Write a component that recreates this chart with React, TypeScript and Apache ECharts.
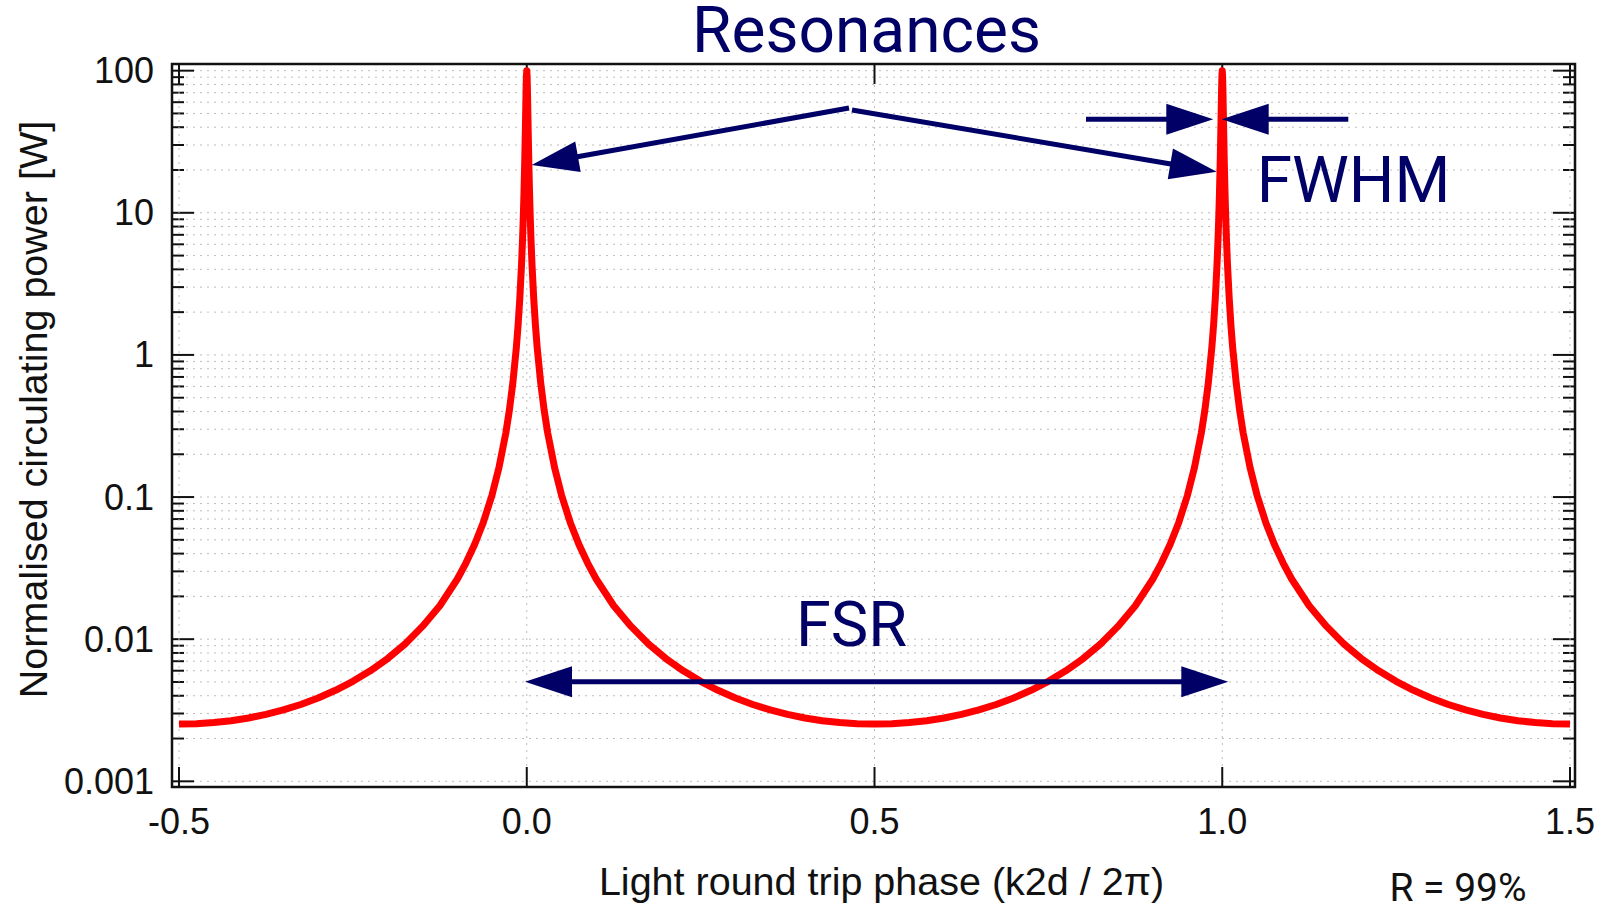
import React, { useEffect, useRef } from "react";
import * as echarts from "echarts";

// ---------------- data ----------------
const xTickValues = [-0.5, 0.0, 0.5, 1.0, 1.5];
const yMajorValues = [0.001, 0.01, 0.1, 1, 10, 100];
const yMinorValues = [
  0.002, 0.003, 0.004, 0.005, 0.006, 0.007, 0.008, 0.009,
  0.02, 0.03, 0.04, 0.05, 0.06, 0.07, 0.08, 0.09,
  0.2, 0.3, 0.4, 0.5, 0.6, 0.7, 0.8, 0.9,
  2, 3, 4, 5, 6, 7, 8, 9,
  20, 30, 40, 50, 60, 70, 80, 90,
];

// light round trip phase (k2d / 2π)
const phase = [
  -0.5, -0.475, -0.45, -0.425, -0.4, -0.375, -0.35, -0.325, -0.3, -0.275, -0.25, -0.225, -0.2, -0.175,
  -0.15, -0.125, -0.1, -0.0875, -0.075, -0.0625, -0.05, -0.04, -0.03, -0.025, -0.02, -0.015, -0.0125,
  -0.01, -0.0075, -0.006, -0.005, -0.004, -0.003, -0.002, -0.0016, -0.001, -0.0005, 0.0,
  0.0005, 0.001, 0.0016, 0.002, 0.003, 0.004, 0.005, 0.006, 0.0075, 0.01, 0.0125, 0.015, 0.02, 0.025,
  0.03, 0.04, 0.05, 0.0625, 0.075, 0.0875, 0.1, 0.125, 0.15, 0.175, 0.2, 0.225, 0.25, 0.275, 0.3,
  0.325, 0.35, 0.375, 0.4, 0.425, 0.45, 0.475, 0.5,
  0.525, 0.55, 0.575, 0.6, 0.625, 0.65, 0.675, 0.7, 0.725, 0.75, 0.775, 0.8, 0.825, 0.85, 0.875, 0.9,
  0.9125, 0.925, 0.9375, 0.95, 0.96, 0.97, 0.975, 0.98, 0.985, 0.9875, 0.99, 0.9925, 0.994, 0.995,
  0.996, 0.997, 0.998, 0.9984, 0.999, 0.9995, 1.0,
  1.0005, 1.001, 1.0016, 1.002, 1.003, 1.004, 1.005, 1.006, 1.0075, 1.01, 1.0125, 1.015, 1.02, 1.025,
  1.03, 1.04, 1.05, 1.0625, 1.075, 1.0875, 1.1, 1.125, 1.15, 1.175, 1.2, 1.225, 1.25, 1.275, 1.3,
  1.325, 1.35, 1.375, 1.4, 1.425, 1.45, 1.475, 1.5,
];

// normalised circulating power [W]
const power = [
  0.00253, 0.00254, 0.00259, 0.00267, 0.00279, 0.00296, 0.00318, 0.00347, 0.00386, 0.00437, 0.00505,
  0.00599, 0.00731, 0.00925, 0.0123, 0.0172, 0.0264, 0.0343, 0.0463, 0.0663, 0.103, 0.161, 0.284,
  0.409, 0.637, 1.125, 1.61, 2.5, 4.35, 6.64, 9.28, 13.8, 22.1, 39.0, 50.0, 71.9, 91.1, 100,
  91.1, 71.9, 50.0, 39.0, 22.1, 13.8, 9.28, 6.64, 4.35, 2.5, 1.61, 1.125, 0.637, 0.409, 0.284, 0.161,
  0.103, 0.0663, 0.0463, 0.0343, 0.0264, 0.0172, 0.0123, 0.00925, 0.00731, 0.00599, 0.00505, 0.00437,
  0.00386, 0.00347, 0.00318, 0.00296, 0.00279, 0.00267, 0.00259, 0.00254, 0.00253,
  0.00254, 0.00259, 0.00267, 0.00279, 0.00296, 0.00318, 0.00347, 0.00386, 0.00437, 0.00505, 0.00599,
  0.00731, 0.00925, 0.0123, 0.0172, 0.0264, 0.0343, 0.0463, 0.0663, 0.103, 0.161, 0.284, 0.409, 0.637,
  1.125, 1.61, 2.5, 4.35, 6.64, 9.28, 13.8, 22.1, 39.0, 50.0, 71.9, 91.1, 100,
  91.1, 71.9, 50.0, 39.0, 22.1, 13.8, 9.28, 6.64, 4.35, 2.5, 1.61, 1.125, 0.637, 0.409, 0.284, 0.161,
  0.103, 0.0663, 0.0463, 0.0343, 0.0264, 0.0172, 0.0123, 0.00925, 0.00731, 0.00599, 0.00505, 0.00437,
  0.00386, 0.00347, 0.00318, 0.00296, 0.00279, 0.00267, 0.00259, 0.00254, 0.00253,
];

const titleText = "Resonances";
const xAxisTitle = "Light round trip phase (k2d / 2π)";
const yAxisTitle = "Normalised circulating power [W]";
const noteText = "R = 99%";

// ---------------- layout / style ----------------
const W = 1604;
const H = 907;
const GRID = { left: 172, top: 64, right: 1575, bottom: 787 };
const NAVY = "#000066";
const INK = "#111111";
const GRIDCOLOR = "#bdbdbd";
const LABEL_FONT = "'Liberation Sans', Arial, sans-serif";
const NOTE_FONT = "Roboto, 'Noto Sans', sans-serif";

type Pt = [number, number];

function arrow(tail: Pt, tip: Pt, headLen = 47, half = 15.5) {
  const dx = tip[0] - tail[0];
  const dy = tip[1] - tail[1];
  const L = Math.hypot(dx, dy);
  const ux = dx / L;
  const uy = dy / L;
  const bx = tip[0] - ux * headLen;
  const by = tip[1] - uy * headLen;
  return [
    {
      type: "line",
      z: 20,
      shape: { x1: tail[0], y1: tail[1], x2: bx + ux * 2, y2: by + uy * 2 },
      style: { stroke: NAVY, lineWidth: 5 },
    },
    {
      type: "polygon",
      z: 20,
      shape: {
        points: [
          [tip[0], tip[1]],
          [bx - uy * half, by + ux * half],
          [bx + uy * half, by - ux * half],
        ],
      },
      style: { fill: NAVY },
    },
  ];
}

function fmtDecade(v: number) {
  const e = Math.log10(v);
  const r = Math.round(e);
  if (Math.abs(e - r) > 1e-6) return "";
  if (r < 0) return Math.pow(10, r).toFixed(-r);
  return String(Math.round(Math.pow(10, r)));
}

function fmtHalf(v: number) {
  const r = Math.round(v * 2);
  if (Math.abs(v * 2 - r) > 1e-6) return "";
  return (r / 2).toFixed(1);
}

export default function App() {
  const ref = useRef<HTMLDivElement>(null);

  useEffect(() => {
    if (!ref.current) return;
    const chart = echarts.init(ref.current, null, { renderer: "svg" });

    const yTickData = [
      ...yMajorValues.map((v) => [0, v, 1]),
      ...yMinorValues.map((v) => [0, v, 0]),
    ];
    const xTickData = xTickValues.map((v) => [v, 1]);

    const renderYTick = (params: any, api: any) => {
      const cs = params.coordSys;
      const v = api.value(1);
      const major = api.value(2) === 1;
      const py = api.coord([0, v])[1];
      const len = major ? 22 : 12;
      const left = cs.x;
      const right = cs.x + cs.width;
      return {
        type: "group",
        children: [
          {
            type: "line",
            shape: { x1: left, y1: py, x2: right, y2: py },
            style: { stroke: GRIDCOLOR, lineWidth: 1, lineDash: [2, 5] },
          },
          {
            type: "line",
            shape: { x1: left, y1: py, x2: left + len, y2: py },
            style: { stroke: INK, lineWidth: 2 },
          },
          {
            type: "line",
            shape: { x1: right - len, y1: py, x2: right, y2: py },
            style: { stroke: INK, lineWidth: 2 },
          },
        ],
      };
    };

    const renderXTick = (params: any, api: any) => {
      const cs = params.coordSys;
      const v = api.value(0);
      const px = api.coord([v, 1])[0];
      const top = cs.y;
      const bottom = cs.y + cs.height;
      return {
        type: "group",
        children: [
          {
            type: "line",
            shape: { x1: px, y1: top, x2: px, y2: bottom },
            style: { stroke: GRIDCOLOR, lineWidth: 1, lineDash: [2, 5] },
          },
          {
            type: "line",
            shape: { x1: px, y1: bottom, x2: px, y2: bottom - 20 },
            style: { stroke: INK, lineWidth: 2 },
          },
          {
            type: "line",
            shape: { x1: px, y1: top, x2: px, y2: top + 20 },
            style: { stroke: INK, lineWidth: 2 },
          },
        ],
      };
    };

    const annotationElements: any[] = [
      // Resonances arrows
      ...arrow([849, 108], [531.7, 165]),
      ...arrow([852, 110], [1216.7, 171.7]),
      // FWHM arrows
      ...arrow([1086, 119.3], [1213.3, 119.3]),
      ...arrow([1348.3, 119.3], [1221.7, 119.3]),
      // FSR double arrow
      ...arrow([876, 681.7], [525, 681.7]),
      ...arrow([876, 681.7], [1228.3, 681.7]),
      {
        type: "rect",
        z: 15,
        shape: {
          x: GRID.left,
          y: GRID.top,
          width: GRID.right - GRID.left,
          height: GRID.bottom - GRID.top,
        },
        style: { fill: "none", stroke: INK, lineWidth: 2.5 },
      },
      {
        type: "text",
        z: 25,
        x: 866.5,
        y: 30,
        style: {
          text: titleText,
          fill: NAVY,
          font: `64px ${NOTE_FONT}`,
          lineHeight: 50,
          align: "center",
          verticalAlign: "middle",
        },
      },
      {
        type: "text",
        z: 25,
        x: 1353.5,
        y: 180,
        style: {
          text: "FWHM",
          fill: NAVY,
          font: `64px ${NOTE_FONT}`,
          align: "center",
          verticalAlign: "middle",
        },
      },
      {
        type: "text",
        z: 25,
        x: 851.5,
        y: 624,
        style: {
          text: "FSR",
          fill: NAVY,
          font: `63px ${NOTE_FONT}`,
          align: "center",
          verticalAlign: "middle",
        },
      },
      {
        type: "text",
        z: 25,
        x: 1458,
        y: 888,
        style: {
          text: noteText,
          fill: INK,
          font: `39px ${NOTE_FONT}`,
          lineHeight: 30,
          align: "center",
          verticalAlign: "middle",
        },
      },
    ];

    chart.setOption({
      animation: false,
      backgroundColor: "#ffffff",
      grid: {
        left: GRID.left,
        top: GRID.top,
        right: W - GRID.right,
        bottom: H - GRID.bottom,
        containLabel: false,
      },
      xAxis: {
        type: "value",
        min: -0.5101,
        max: 1.5072,
        splitNumber: 4,
        axisLine: { show: false },
        axisTick: { show: false },
        splitLine: { show: false },
        axisLabel: {
          formatter: fmtHalf,
          fontSize: 36,
          fontFamily: LABEL_FONT,
          color: INK,
          margin: 16,
          showMinLabel: true,
          showMaxLabel: true,
        },
        name: xAxisTitle,
        nameLocation: "middle",
        nameGap: 74,
        nameTextStyle: {
          fontSize: 39.5,
          fontFamily: LABEL_FONT,
          color: INK,
          padding: [0, 0, 0, 16],
        },
      },
      yAxis: {
        type: "log",
        logBase: 10,
        min: 0.000912,
        max: 111.4,
        axisLine: { show: false },
        axisTick: { show: false },
        splitLine: { show: false },
        minorTick: { show: false },
        minorSplitLine: { show: false },
        axisLabel: {
          formatter: fmtDecade,
          fontSize: 36,
          fontFamily: LABEL_FONT,
          color: INK,
          margin: 18,
        },
        name: yAxisTitle,
        nameLocation: "middle",
        nameGap: 118,
        nameTextStyle: {
          fontSize: 39.5,
          fontFamily: LABEL_FONT,
          color: INK,
          padding: [0, 0, 0, 32],
        },
      },
      graphic: { elements: annotationElements },
      series: [
        {
          type: "custom",
          name: "y grid",
          z: 1,
          silent: true,
          renderItem: renderYTick,
          data: yTickData,
          encode: { x: 0, y: 1 },
        },
        {
          type: "custom",
          name: "x grid",
          z: 1,
          silent: true,
          renderItem: renderXTick,
          data: xTickData,
          encode: { x: 0, y: 1 },
        },
        {
          type: "line",
          name: "circulating power",
          z: 5,
          data: phase.map((x, i) => [x, power[i]]),
          showSymbol: false,
          smooth: false,
          lineStyle: { color: "#ff0000", width: 7, join: "round" },
          itemStyle: { color: "#ff0000" },
        },
      ],
    });

    return () => chart.dispose();
  }, []);

  return (
    <div
      ref={ref}
      style={{ position: "absolute", left: 0, top: 0, width: W, height: H }}
    />
  );
}
